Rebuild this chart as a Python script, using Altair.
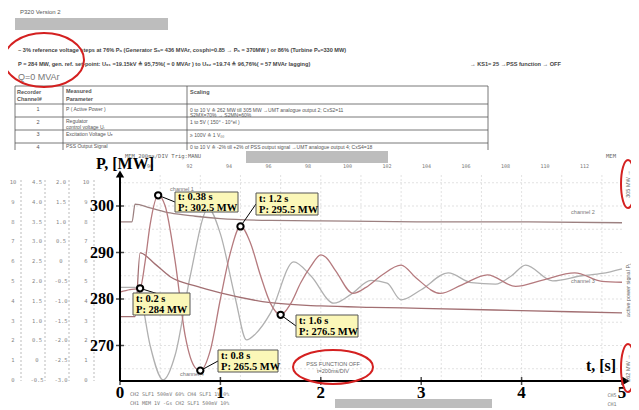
import altair as alt
import pandas as pd

# channel traces (t in s, P in MW)
t_ch1 = [0, 0.1, 0.2, 0.25, 0.3, 0.38, 0.45, 0.55, 0.65, 0.75, 0.8, 0.9, 1.0, 1.1, 1.2, 1.3, 1.4, 1.5, 1.6,
         1.7, 1.8, 1.9, 2.0, 2.05, 2.15, 2.32, 2.45, 2.6, 2.8, 2.95, 3.19, 3.4, 3.66, 3.94, 4.2, 4.53, 4.8, 5.0]
p_ch1 = [281.5, 282.0, 282.3, 288, 296, 302.3, 300, 288, 272, 265.2, 264.6, 269, 280, 290, 295.6, 292, 285, 279, 276.6,
         279, 283.5, 287, 289.5, 289, 286, 281.2, 282.5, 285, 287.3, 284.5, 281.2, 283, 285.2, 282.7, 284, 285.6, 283.8, 283.6]
t_ch4 = [0, 0.15, 0.2, 0.3, 0.43, 0.55, 0.7, 0.88, 1.0, 1.15, 1.26, 1.35, 1.5, 1.73, 1.9, 2.13, 2.3, 2.5, 2.66,
         2.8, 3.0, 3.27, 3.5, 3.74, 3.9, 4.04, 4.31, 4.6, 4.8, 5.0]
p_ch4 = [282.5, 282.5, 281, 270, 262.6, 268, 285, 299.5, 294, 280, 271.2, 272.5, 277, 288, 285, 279.1, 281, 284, 283.4,
         279.8, 282, 285.6, 283.5, 283.2, 285, 287.3, 283.9, 285, 285.5, 286.5]
t_ch2 = [0, 0.12, 0.15, 0.3, 0.5, 0.75, 1.0, 1.5, 2.0, 3.0, 4.0, 5.0]
p_ch2 = [296.6, 296.6, 300.4, 299.6, 298.5, 297.8, 297.3, 296.9, 296.8, 296.6, 296.6, 296.4]
t_ch3 = [0, 0.15, 0.2, 0.35, 0.5, 0.75, 1.0, 1.5, 2.0, 2.5, 3.0, 4.0, 5.0]
p_ch3 = [276.2, 276.2, 289.9, 287.5, 284.8, 282.8, 281.3, 279.2, 278.5, 278.2, 278.0, 277.5, 277.0]

# measured points with their labels
pt_t = [0.2, 0.38, 0.8, 1.2, 1.6]
pt_p = [282.3, 302.3, 264.6, 295.6, 276.6]
pt_lbl = ["t: 0.2 s\nP: 284 MW", "t: 0.38 s\nP: 302.5 MW", "t: 0.8 s\nP: 265.5 MW",
          "t: 1.2 s\nP: 295.5 MW", "t: 1.6 s\nP: 276.5 MW"]
# label boxes in page pixels: left, top, right, bottom
box_px = [(133, 293, 190, 315), (175, 192, 238, 212), (218, 350, 278, 372),
          (256, 193, 318, 215), (296, 315, 358, 337)]

y_ticks = [270, 280, 290, 300]
x_ticks = [0, 1, 2, 3, 4, 5]
top_nums = ["90", "92", "94", "96", "98", "100", "102", "104", "106", "108", "110", "112"]
aux_a = ["10", "9", "8", "7", "6", "5", "4", "3", "2", "1", "0"]
aux_b = ["4.5", "4.0", "3.5", "3.0", "2.5", "2.0", "1.5", "1.0", "0.5", "0", "-0.5"]
aux_c = ["2.0", "1.5", "1.0", "0.5", "0", "-0.5", "-1.0", "-1.5", "-2.0", "-2.5", "-3.0"]
aux_d = ["10", "9", "8", "7", "6", "5", "4", "3", "2", "1", "0"]

X0, Y0 = 120, 175
PXS, MWPX = 100.4, 4.65


def tx(px):
    return (px - X0) / PXS


def py(y):
    return 280 - (y - 299) / MWPX


XD = [0, tx(622)]
YD = [py(381), py(175)]
xs = alt.Scale(domain=XD, nice=False, zero=False)
ys = alt.Scale(domain=YD, nice=False, zero=False)
X = lambda f: alt.X(f, type="quantitative", scale=xs, axis=None)
Y = lambda f: alt.Y(f, type="quantitative", scale=ys, axis=None)

SERIF = "Liberation Serif"
SANS = "Liberation Sans, DejaVu Sans"


def text(rows, **kw):
    df = pd.DataFrame([{"x": tx(a), "y": py(b), "text": s} for a, b, s in rows])
    return alt.Chart(df).mark_text(**kw).encode(x=X("x"), y=Y("y"), text="text:N")


def rects(rows, **kw):
    df = pd.DataFrame([{"x": tx(a), "x2": tx(c), "y": py(b), "y2": py(d)} for a, b, c, d in rows])
    return alt.Chart(df).mark_rect(**kw).encode(x=X("x"), x2="x2", y=Y("y"), y2="y2")


def rules(rows, **kw):
    df = pd.DataFrame([{"x": tx(a), "x2": tx(c), "y": py(b), "y2": py(d)} for a, b, c, d in rows])
    return alt.Chart(df).mark_rule(**kw).encode(x=X("x"), x2="x2", y=Y("y"), y2="y2")


def ellipse(cx, cy, w, h):
    r = h / w
    path = f"M-1,0 A1,{r:.3f} 0 1,1 1,0 A1,{r:.3f} 0 1,1 -1,0"
    df = pd.DataFrame({"x": [tx(cx)], "y": [py(cy)]})
    return alt.Chart(df).mark_point(shape=path, size=w ** 2, stroke="#d42020",
                                    strokeWidth=2, filled=False, opacity=1).encode(x=X("x"), y=Y("y"))


layers = []

# ---- document header ----
layers.append(rects([(15, 18, 168, 30)], color="#bdbdbd"))
layers.append(text([(20, 12, "P320 Version 2")], font=SANS, fontSize=6, color="#555", align="left"))
layers.append(text([
    (18, 50, "~ 3% reference voltage steps at 76% Pₙ (Generator Sₙ= 436 MVAr, cosphi=0.85 → Pₙ = 370MW ) or 86%  (Turbine Pₙ=330 MW)"),
    (18, 64, "P = 284 MW, gen. ref. set-point: U₀₁ =19.15kV ≙ 95,75%( = 0 MVAr ) to U₀₂ =19.74 ≙ 96,76%( = 57 MVAr lagging)"),
    (470, 64, "→ KS1= 25 →PSS function → OFF")],
    font=SANS, fontSize=5.6, color="#444", align="left", fontWeight="bold"))
layers.append(text([(18, 77, "Q=0 MVAr")], font=SANS, fontSize=9, color="#777", align="left"))
layers.append(rules([(15, 86, 488, 86), (15, 104, 488, 104), (15, 117, 488, 117), (15, 130, 488, 130),
                     (15, 143, 488, 143), (15, 86, 15, 150), (63, 86, 63, 150), (187, 86, 187, 150),
                     (488, 86, 488, 150)], color="#555", strokeWidth=0.8))
layers.append(text([
    (17, 92, "Recorder"), (17, 99, "Channel#"), (66, 91, "Measured"), (66, 99, "Parameter"), (190, 92, "Scaling")],
    font=SANS, fontSize=5.5, fontWeight="bold", color="#555", align="left"))
layers.append(text([
    (38, 109, "1"), (38, 122, "2"), (38, 134, "3"), (38, 147, "4")],
    font=SANS, fontSize=5.5, color="#555"))
layers.append(text([
    (66, 109, "P ( Active Power )"), (66, 121, "Regulator"), (66, 127, "control voltage Uₗ"),
    (66, 134, "Excitation Voltage Uₑ"), (66, 146, "PSS Output Signal"),
    (190, 110, "0 to 10 V ≙ 262 MW till 305 MW →UMT analogue output 2; CxS2=11"),
    (190, 115, "S2MX=70% → S2MN=60%"), (190, 122, "1 to 5V ( 150° - 10°el )"),
    (190, 135, "≥ 100V ≙ 1 V₀₀"), (190, 147, "0 to 10 V ≙ -2% till +2% of PSS output signal →UMT analogue output 4; CxS4=18")],
    font=SANS, fontSize=5, color="#555", align="left"))
layers.append(ellipse(44, 60, 80, 54))

# ---- scope frame ----
layers.append(text([(125, 156, "MEM   200ms/DIV  Trig:MANU")], font="DejaVu Sans Mono", fontSize=5.5,
                   color="#666", align="left"))
layers.append(text([(611, 156, "MEM")], font="DejaVu Sans Mono", fontSize=5.5, color="#666"))
layers.append(rects([(246, 151, 388, 163)], color="#bdbdbd"))
layers.append(rects([(335, 399, 492, 410)], color="#bdbdbd"))
layers.append(text([(150 + i * 39.5, 166, s) for i, s in enumerate(top_nums)],
                   font="DejaVu Sans Mono", fontSize=5, color="#777"))
layers.append(text([
    (130, 394, "CH2  SLF1  500mV      60%  CH4  SLF1   1V        0%"),
    (130, 403, "CH1  MEM   1V         -Gs  CH2  SLF1   500mV    10%")],
    font="DejaVu Sans Mono", fontSize=5, color="#777", align="left"))
layers.append(text([(612, 395, "CH5"), (612, 404, "CH1")], font="DejaVu Sans Mono", fontSize=5, color="#777"))

# left auxiliary scales
for xc, vals in [(13, aux_a), (37, aux_b), (61, aux_c), (86, aux_d)]:
    layers.append(rules([(xc + 8, 180, xc + 8, 381)], color="#aaa", strokeWidth=0.8, strokeDash=[2, 2]))
    layers.append(text([(xc, 182 + i * 19.8, v) for i, v in enumerate(vals)],
                       font="DejaVu Sans Mono", fontSize=5.5, color="#888"))

# grid
grid_x = pd.DataFrame({"x": [i * 0.4 for i in range(1, 13)]})
layers.append(alt.Chart(grid_x).mark_rule(color="#cfcfcf", strokeWidth=0.6, strokeDash=[2, 2])
              .encode(x=X("x")))
grid_y = pd.DataFrame({"y": [265 + 5 * i for i in range(9)]})
layers.append(alt.Chart(grid_y).mark_rule(color="#cfcfcf", strokeWidth=0.6, strokeDash=[2, 2])
              .encode(y=Y("y")))

# channel traces
traces = pd.concat([
    pd.DataFrame({"t": t_ch4, "p": p_ch4, "ch": "channel 4"}),
    pd.DataFrame({"t": t_ch2, "p": p_ch2, "ch": "channel 2"}),
    pd.DataFrame({"t": t_ch3, "p": p_ch3, "ch": "channel 3"}),
    pd.DataFrame({"t": t_ch1, "p": p_ch1, "ch": "channel 1"}),
])
layers.append(alt.Chart(traces).mark_line(strokeWidth=1.3, interpolate="monotone").encode(
    x=X("t"), y=Y("p"), detail="ch:N",
    color=alt.Color("ch:N", legend=None, scale=alt.Scale(
        domain=["channel 1", "channel 2", "channel 3", "channel 4"],
        range=["#b57a7e", "#9c8080", "#a26f72", "#b0b0b0"]))))
layers.append(text([(583, 212, "channel 2"), (583, 281, "channel 3"), (192, 374, "channel 4"),
                    (182, 189, "channel 1")], font=SANS, fontSize=5.5, color="#777"))

# axes
layers.append(rules([(X0, 381, 624, 381), (X0, 381, X0, 177)], color="black", strokeWidth=2))
arrows = pd.DataFrame({"x": [tx(X0), tx(626)], "y": [py(174), py(381)], "a": [0, 90]})
layers.append(alt.Chart(arrows).mark_point(shape="triangle-up", filled=True, color="black", size=70, opacity=1)
              .encode(x=X("x"), y=Y("y"), angle=alt.Angle("a:Q", scale=None)))
ytk = pd.DataFrame({"y": y_ticks})
layers.append(alt.Chart(ytk).mark_tick(color="black", thickness=1.5, size=8).encode(
    y=Y("y"), x=alt.value(0)))
layers.append(alt.Chart(ytk).mark_text(font=SERIF, fontWeight="bold", fontSize=16, align="right", dx=-6)
              .encode(y=Y("y"), x=alt.value(0), text="y:Q"))
xtk = pd.DataFrame({"x": x_ticks})
layers.append(alt.Chart(xtk).mark_text(font=SERIF, fontWeight="bold", fontSize=17, baseline="top", dy=4)
              .encode(x=X("x"), y=alt.value(206), text="x:Q"))
layers.append(alt.Chart(xtk).mark_tick(color="black", thickness=1.5, size=8, orient="vertical")
              .encode(x=X("x"), y=alt.value(206)))
layers.append(text([(125, 164, "P, [MW]")], font=SERIF, fontWeight="bold", fontSize=16))
layers.append(text([(601, 366, "t, [s]")], font=SERIF, fontWeight="bold", fontSize=16))

# right side markers
layers.append(text([(628, 184, "305 MW →"), (628, 368, "262 MW →")],
                   font=SANS, fontSize=5.5, color="#666", angle=270))
layers.append(text([(628, 290, "active power signal P₁")], font=SANS, fontSize=5.5, color="#666", angle=270))
layers.append(ellipse(628, 184, 14, 48))
layers.append(ellipse(628, 368, 14, 48))

# PSS note
layers.append(text([(333, 364, "PSS FUNCTION OFF"), (333, 371, "t=200ms/DIV")],
                   font=SANS, fontSize=5.5, color="#666"))
layers.append(ellipse(333, 367, 80, 34))

# annotated points
arr = pd.DataFrame({
    "x": [tx(b[0] if b[0] > X0 + p * PXS else b[2]) for b, p in zip(box_px, pt_t)],
    "y": [py((b[1] + b[3]) / 2) for b in box_px],
    "x2": pt_t, "y2": pt_p})
layers.append(alt.Chart(arr).mark_rule(color="black", strokeWidth=1).encode(
    x=X("x"), x2="x2", y=Y("y"), y2="y2"))
layers.append(rects(box_px, color="#fbf7b8", stroke="#555", strokeWidth=1))
lab = pd.DataFrame({"x": [tx(b[0] + 3) for b in box_px], "y": [py((b[1] + b[3]) / 2) for b in box_px],
                    "text": pt_lbl})
layers.append(alt.Chart(lab).mark_text(font=SERIF, fontWeight="bold", fontSize=10.5, align="left",
                                       lineBreak="\n", lineHeight=11, dy=-5)
              .encode(x=X("x"), y=Y("y"), text="text:N"))
pts = pd.DataFrame({"t": pt_t, "p": pt_p})
layers.append(alt.Chart(pts).mark_point(shape="circle", size=40, stroke="black", strokeWidth=2,
                                        fill="white", filled=False, opacity=1)
              .encode(x=X("t"), y=Y("p")))

chart = alt.layer(*layers).properties(
    width=502, height=206,
    autosize=alt.AutoSizeParams(type="none"),
    padding={"left": 112, "top": 167, "right": 9, "bottom": 27},
    background="white",
).configure_view(stroke=None)

chart.save("out.html", embed_options={"renderer": "svg", "actions": False})
